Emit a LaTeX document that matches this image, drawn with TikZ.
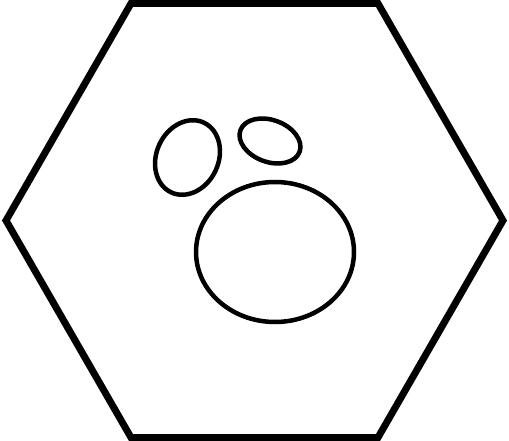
\documentclass[tikz,border=0pt]{standalone}
\begin{document}
\begin{tikzpicture}[x=1pt,y=-1pt,
  hexline/.style={draw=black,line width=7pt,line join=miter},
  blob/.style={draw=black,line width=4.5pt}]
\useasboundingbox (0,0) rectangle (509,441);
\draw[hexline] (6,220.5) -- (131,3.5) -- (378,3.5) -- (503,220.5) -- (378,437.5) -- (131,437.5) -- cycle;
\draw[blob] (275,252) ellipse [x radius=79, y radius=70];
\draw[blob] (187.5,157.5) ellipse [x radius=31, y radius=38.5, rotate=-25];
\draw[blob] (270,141) ellipse [x radius=31.5, y radius=21, rotate=-20];
\end{tikzpicture}
\end{document}
